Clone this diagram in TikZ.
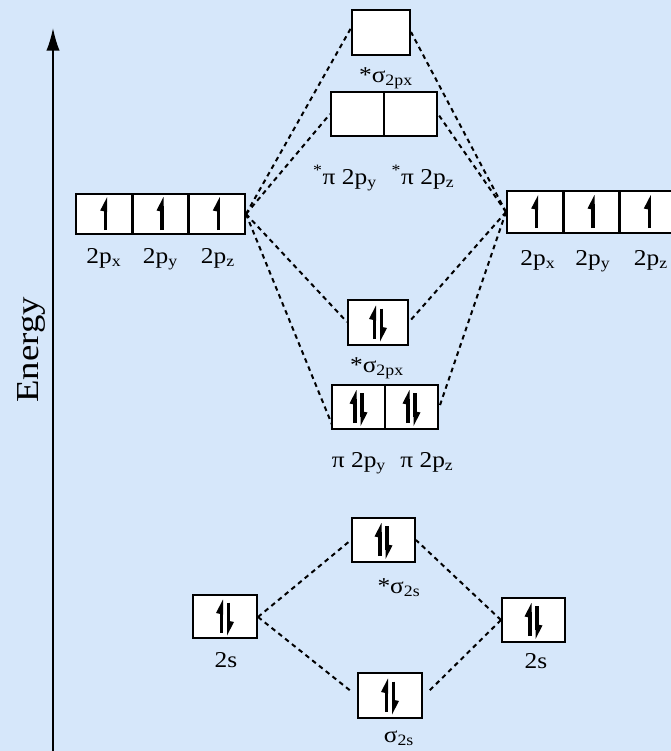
\documentclass[tikz,border=0pt]{standalone}
\usepackage{fontspec}
\usepackage{graphicx}
\setmainfont{Liberation Serif}
\usetikzlibrary{arrows.meta,calc}
\definecolor{bgblue}{RGB}{214,231,250}
\newcommand\hst[1]{\scalebox{1.12}[1]{#1}}
\begin{document}
\begin{tikzpicture}[x=0.75pt,y=-0.75pt,
  bx/.style 2 args={draw=black, fill=white, line width=2pt, inner sep=0pt,
    minimum width=#1*0.75pt, minimum height=#2*0.75pt},
  conn/.style={draw=black, line width=1.5pt, dash pattern=on 3.5pt off 3pt},
  lbl/.style={font=\fontsize{17}{20}\selectfont, inner sep=0pt, anchor=base},
  eup/.pic={\draw[line width=2.3pt] (0,16) -- (0,-8);
            \fill (1.5,-17) -- (1.5,-2) -- (-5.5,-3.5) -- cycle;},
  edn/.pic={\draw[line width=2.3pt] (0,-14) -- (0,10);
            \fill (-1.5,19) -- (-1.5,4) -- (5.5,5.5) -- cycle;}]
\useasboundingbox (0,0) rectangle (671,751);
\clip (0,0) rectangle (671,751);
\fill[bgblue] (0,0) rectangle (671,751);

% energy axis
\coordinate (axb) at (53,751);
\coordinate (axt) at (53,28);
\draw[line width=1.3pt, -{Latex[length=17pt,width=10pt]}] (axb) -- (axt);
\node[font=\fontsize{24}{28}\selectfont, rotate=90, inner sep=0pt] (energy) at (31,350) {\scalebox{1.15}[1]{Energy}};

% dashed connectors drawn first (under boxes)
\coordinate (L2pR) at (246,214);
\coordinate (R2pL) at (506,212);
\coordinate (SSpW) at (351,28);
\coordinate (SSpE) at (411,32);
\coordinate (PiSW) at (330,114);
\coordinate (PiSE) at (438,114);
\coordinate (SpW) at (347,322);
\coordinate (SpE) at (409,322);
\coordinate (PiW) at (333,427);
\coordinate (PiE) at (439,408);
\draw[conn] (L2pR) -- (SSpW);
\draw[conn] (L2pR) -- (PiSW);
\draw[conn] (L2pR) -- (SpW);
\draw[conn] (L2pR) -- (PiW);
\draw[conn] (R2pL) -- (SSpE);
\draw[conn] (R2pL) -- (PiSE);
\draw[conn] (R2pL) -- (SpE);
\draw[conn] (R2pL) -- (PiE);

\coordinate (L2sE) at (258,617);
\coordinate (R2sW) at (501,620);
\coordinate (SS2sW) at (351,540);
\coordinate (SS2sE) at (416,540);
\coordinate (S2sW) at (352,692);
\coordinate (S2sE) at (428,692);
\draw[conn] (L2sE) -- (SS2sW);
\draw[conn] (L2sE) -- (S2sW);
\draw[conn] (R2sW) -- (SS2sE);
\draw[conn] (R2sW) -- (S2sE);

% boxes
\node[bx={56.3}{40}] (L2px) at (104.2,214) {};
\node[bx={56.3}{40}] (L2py) at (160.5,214) {};
\node[bx={56.3}{40}] (L2pz) at (216.8,214) {};
\node[bx={56.3}{42}] (R2px) at (535.2,212) {};
\node[bx={56.3}{42}] (R2py) at (591.5,212) {};
\node[bx={56.3}{42}] (R2pz) at (647.8,212) {};
\node[bx={58}{45}] (SSp) at (381,32.5) {};
\node[bx={53}{44}] (PiSy) at (357.5,114) {};
\node[bx={53}{44}] (PiSz) at (410.5,114) {};
\node[bx={60}{45}] (Sp) at (378,322.5) {};
\node[bx={53}{44}] (Piy) at (358.5,407) {};
\node[bx={53}{44}] (Piz) at (411.5,407) {};
\node[bx={63}{44}] (SS2s) at (383.5,540) {};
\node[bx={63}{44}] (R2s) at (533.5,620) {};
\node[bx={64}{43}] (L2s) at (225,616.5) {};
\node[bx={64}{45}] (S2s) at (390,695.5) {};

% electrons: single
\foreach \b in {L2px,L2py,L2pz,R2px,R2py,R2pz}
  \pic at ($(\b.center)+(1.5,0)$) {eup};
% electrons: pairs
\foreach \b in {Sp,Piy,Piz,SS2s,R2s,L2s,S2s}{
  \pic at ($(\b.center)+(-3.5,0)$) {eup};
  \pic at ($(\b.center)+(3.5,0)$) {edn};
}

% labels
\node[lbl] (tL2px) at (104,263) {\hst{2p\textsubscript{x}}};
\node[lbl] (tL2py) at (160.5,263) {\hst{2p\textsubscript{y}}};
\node[lbl] (tL2pz) at (218,263) {\hst{2p\textsubscript{z}}};
\node[lbl] (tR2px) at (538,265) {\hst{2p\textsubscript{x}}};
\node[lbl] (tR2py) at (593,265) {\hst{2p\textsubscript{y}}};
\node[lbl] (tR2pz) at (651,265) {\hst{2p\textsubscript{z}}};
\node[lbl] (tSSp) at (386,82) {\hst{*σ\textsubscript{2px}}};
\node[lbl] (tPiSy) at (345,184) {\hst{\textsuperscript{*}π 2p\textsubscript{y}}};
\node[lbl] (tPiSz) at (423,184) {\hst{\textsuperscript{*}π 2p\textsubscript{z}}};
\node[lbl] (tSp) at (377,372) {\hst{*σ\textsubscript{2px}}};
\node[lbl] (tPiy) at (359,467) {\hst{π 2p\textsubscript{y}}};
\node[lbl] (tPiz) at (427,467) {\hst{π 2p\textsubscript{z}}};
\node[lbl] (tSS2s) at (399,593) {\hst{*σ\textsubscript{2s}}};
\node[lbl] (tL2s) at (226,667) {\hst{2s}};
\node[lbl] (tR2s) at (536,668) {\hst{2s}};
\node[lbl] (tS2s) at (399,742) {\hst{σ\textsubscript{2s}}};
\end{tikzpicture}
\end{document}
